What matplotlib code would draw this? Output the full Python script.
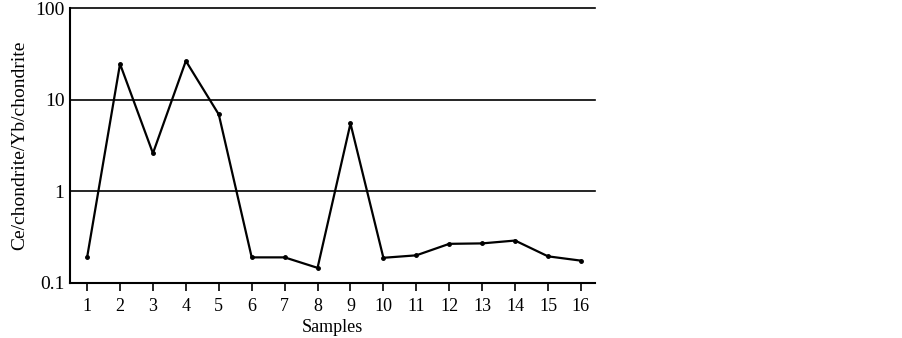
import matplotlib
matplotlib.use('Agg')
import matplotlib.pyplot as plt
from matplotlib.ticker import FixedLocator, FixedFormatter, NullLocator

# sample data
samples = list(range(1, 17))
ratio = [0.19, 24.6, 2.6, 26.5, 6.9, 0.19, 0.19, 0.146, 5.5,
         0.188, 0.20, 0.267, 0.27, 0.29, 0.195, 0.175]
y_ticks = [0.1, 1, 10, 100]
y_labels = ['0.1', '1', '10', '100']

plt.rcParams['font.family'] = ['Liberation Serif', 'DejaVu Serif']

fig = plt.figure(figsize=(9.03, 3.38), dpi=100)
ax = fig.add_axes([0.0775, 0.163, 0.5815, 0.813])

ax.plot(samples, ratio, color='black', lw=1.6, marker='o', ms=2.5)

ax.set_yscale('log')
ax.set_ylim(0.1, 100)
ax.set_xlim(0.48, 16.43)

ax.yaxis.set_major_locator(FixedLocator(y_ticks))
ax.yaxis.set_major_formatter(FixedFormatter(y_labels))
ax.yaxis.set_minor_locator(NullLocator())
ax.tick_params(axis='y', length=0, labelsize=14, pad=4)
ax.set_xticks(samples)
ax.tick_params(axis='x', direction='out', length=6, width=1.2, labelsize=13, pad=5)

for v in [1, 10, 100]:
    ax.axhline(v, color='black', lw=1.2, clip_on=False)

ax.spines['top'].set_visible(False)
ax.spines['right'].set_visible(False)
ax.spines['left'].set_linewidth(1.5)
ax.spines['bottom'].set_linewidth(1.5)

ax.set_xlabel('Samples', fontsize=13, labelpad=3)
ax.set_ylabel('Ce/chondrite/Yb/chondrite', fontsize=14, labelpad=5)

fig.savefig('out.png', dpi=100)
